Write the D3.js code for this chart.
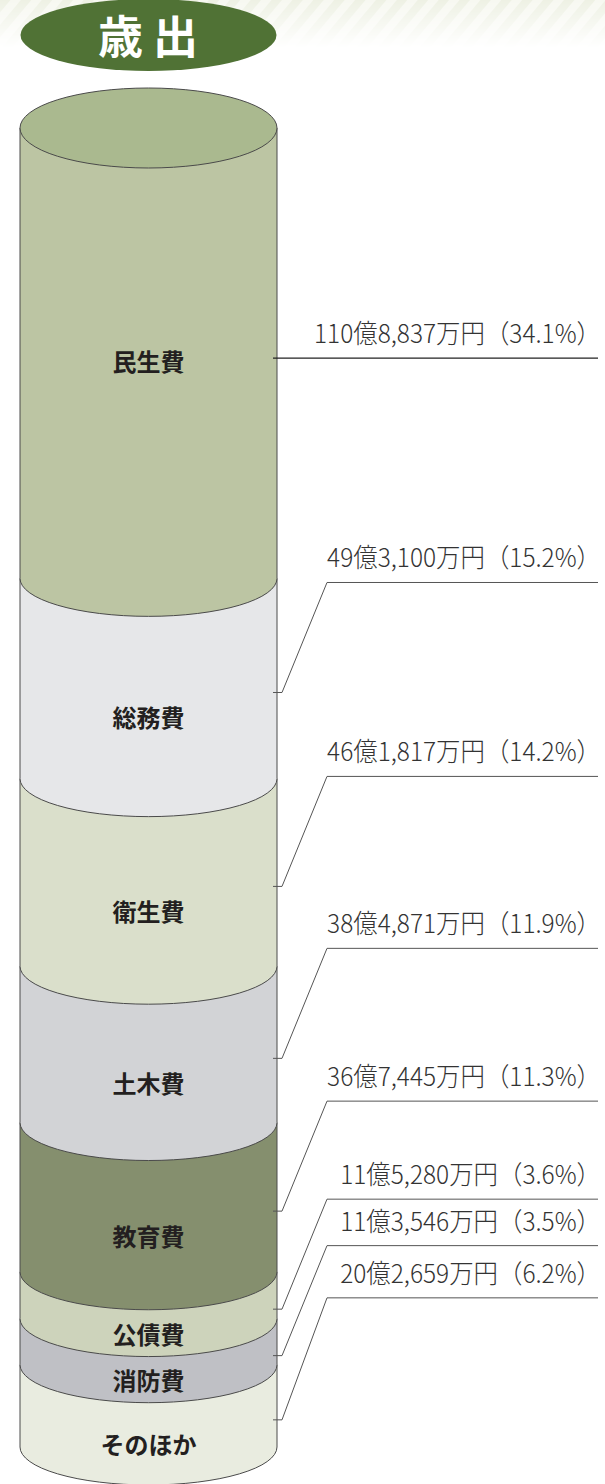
<!DOCTYPE html>
<html>
<head>
<meta charset="utf-8">
<script src="https://cdn.jsdelivr.net/npm/d3@7"></script>
<style>
  html, body { margin: 0; padding: 0; background: #fff; }
  svg { display: block; }
  text { font-family: "Noto Sans CJK JP", "Noto Sans", sans-serif; }
</style>
</head>
<body>
<div id="chart"></div>
<script>
// 歳出の内訳 (単位: 万円)
var categories = ["民生費", "総務費", "衛生費", "土木費", "教育費", "公債費", "消防費", "そのほか"];
var amounts = [1108837, 493100, 461817, 384871, 367445, 115280, 113546, 202659];
var percents = ["34.1", "15.2", "14.2", "11.9", "11.3", "3.6", "3.5", "6.2"];
var fills = ["#bcc5a3", "#e6e7e9", "#dadfcb", "#d2d3d6", "#858f6e", "#cdd3bb", "#bfc0c5", "#e9ece0"];
var title = "歳 出";

// layout
var w = 605, h = 1484;
var x0 = 20, x1 = 277;
var cx = (x0 + x1) / 2, rx = (x1 - x0) / 2, ry = 38;
var leaderRise = [0, 110, 110, 110, 110, 110, 110, 122]; // how far each leader climbs

var svg = d3.select("#chart").append("svg")
    .attr("width", w)
    .attr("height", h);

// faint striped band at the top
var defs = svg.append("defs");
var pat = defs.append("pattern")
    .attr("id", "stripes")
    .attr("width", 16).attr("height", 16)
    .attr("patternUnits", "userSpaceOnUse")
    .attr("patternTransform", "rotate(40)");
pat.append("rect").attr("width", 16).attr("height", 16).attr("fill", "#f7f8f1");
pat.append("rect").attr("width", 8).attr("height", 16).attr("fill", "#eef1e4");

var grad = defs.append("linearGradient")
    .attr("id", "fade").attr("x1", 0).attr("y1", 0).attr("x2", 0).attr("y2", 1);
grad.append("stop").attr("offset", "0%").attr("stop-color", "#fff").attr("stop-opacity", 1);
grad.append("stop").attr("offset", "100%").attr("stop-color", "#fff").attr("stop-opacity", 0);
var mask = defs.append("mask").attr("id", "fadeMask");
mask.append("rect").attr("width", w).attr("height", 48).attr("fill", "url(#fade)");

svg.append("rect")
    .attr("width", w).attr("height", 48)
    .attr("fill", "url(#stripes)")
    .attr("mask", "url(#fadeMask)");

// title badge
svg.append("ellipse")
    .attr("cx", 148.5).attr("cy", 35)
    .attr("rx", 128).attr("ry", 36)
    .attr("fill", "#507235");
svg.append("text")
    .attr("x", 148).attr("y", 34)
    .attr("text-anchor", "middle")
    .attr("dominant-baseline", "central")
    .attr("fill", "#fff")
    .attr("font-size", 45)
    .attr("font-weight", "bold")
    .text(title);

// stacked cylinder
var total = d3.sum(amounts);
var yScale = d3.scaleLinear()
    .domain([0, total])
    .range([128, 1447]);

var cum = d3.cumsum(amounts);
var segs = amounts.map(function(v, i) {
    var start = i === 0 ? 0 : cum[i - 1];
    return {
        name: categories[i],
        value: v,
        pct: percents[i],
        color: fills[i],
        i: i,
        yTop: yScale(start),
        yBot: yScale(cum[i])
    };
});

function fillPath(d) {
    return "M" + x0 + "," + d.yTop + "L" + x0 + "," + d.yBot +
        "A" + rx + "," + ry + " 0 0 0 " + x1 + "," + d.yBot +
        "L" + x1 + "," + d.yTop + "Z";
}
function edgePath(d) {
    return "M" + x0 + "," + d.yTop + "L" + x0 + "," + d.yBot +
        "A" + rx + "," + ry + " 0 0 0 " + x1 + "," + d.yBot +
        "L" + x1 + "," + d.yTop;
}

// bottom segments first so each upper one laps over the one below
var drawOrder = segs.slice().reverse();
var cyl = svg.append("g");
var seg = cyl.selectAll("g.seg")
    .data(drawOrder)
    .enter()
    .append("g")
    .attr("class", "seg");
seg.append("path")
    .attr("d", fillPath)
    .attr("fill", function(d) { return d.color; });
seg.append("path")
    .attr("d", edgePath)
    .attr("fill", "none")
    .attr("stroke", "#4a4a4a")
    .attr("stroke-width", 1);

// lid
cyl.append("ellipse")
    .attr("cx", cx).attr("cy", segs[0].yTop)
    .attr("rx", rx).attr("ry", ry + 2)
    .attr("fill", "#aab98f")
    .attr("stroke", "#4a4a4a")
    .attr("stroke-width", 1);

// category names inside the cylinder
svg.selectAll("text.cat")
    .data(segs)
    .enter()
    .append("text")
    .attr("class", "cat")
    .attr("x", cx)
    .attr("y", function(d) {
        var mid = (d.yTop + d.yBot) / 2;
        return d.i === 0 ? mid + 7 : mid + ry;
    })
    .attr("text-anchor", "middle")
    .attr("dominant-baseline", "central")
    .attr("font-size", 24)
    .attr("font-weight", "bold")
    .attr("fill", "#231f20")
    .text(function(d) { return d.name; });

// leaders and amount labels
var fmt = d3.format(",");
function amountLabel(d) {
    var oku = Math.floor(d.value / 10000);
    var man = d.value % 10000;
    return oku + "億" + fmt(man) + "万円（" + d.pct + "%）";
}

segs.forEach(function(d) {
    var mid = (d.yTop + d.yBot) / 2;
    var tickY, lineY, pts;
    if (d.i === 0) {
        tickY = mid + 5;
        lineY = tickY;
        pts = [[273, lineY], [598, lineY]];
    } else {
        tickY = mid + 14;
        lineY = tickY - leaderRise[d.i];
        pts = [[273, tickY], [282, tickY], [327, lineY], [598, lineY]];
    }
    svg.append("path")
        .attr("d", d3.line()(pts))
        .attr("fill", "none")
        .attr("stroke", d.i === 0 ? "#222" : "#555")
        .attr("stroke-width", d.i === 0 ? 1.2 : 1);
    // slightly narrowed to mimic the condensed face of the original
    svg.append("text")
        .attr("transform", "translate(601," + (lineY - 15) + ") scale(0.94,1)")
        .attr("text-anchor", "end")
        .attr("font-size", 26)
        .attr("font-weight", 300)
        .attr("fill", "#333")
        .text(amountLabel(d));
});
</script>
</body>
</html>
